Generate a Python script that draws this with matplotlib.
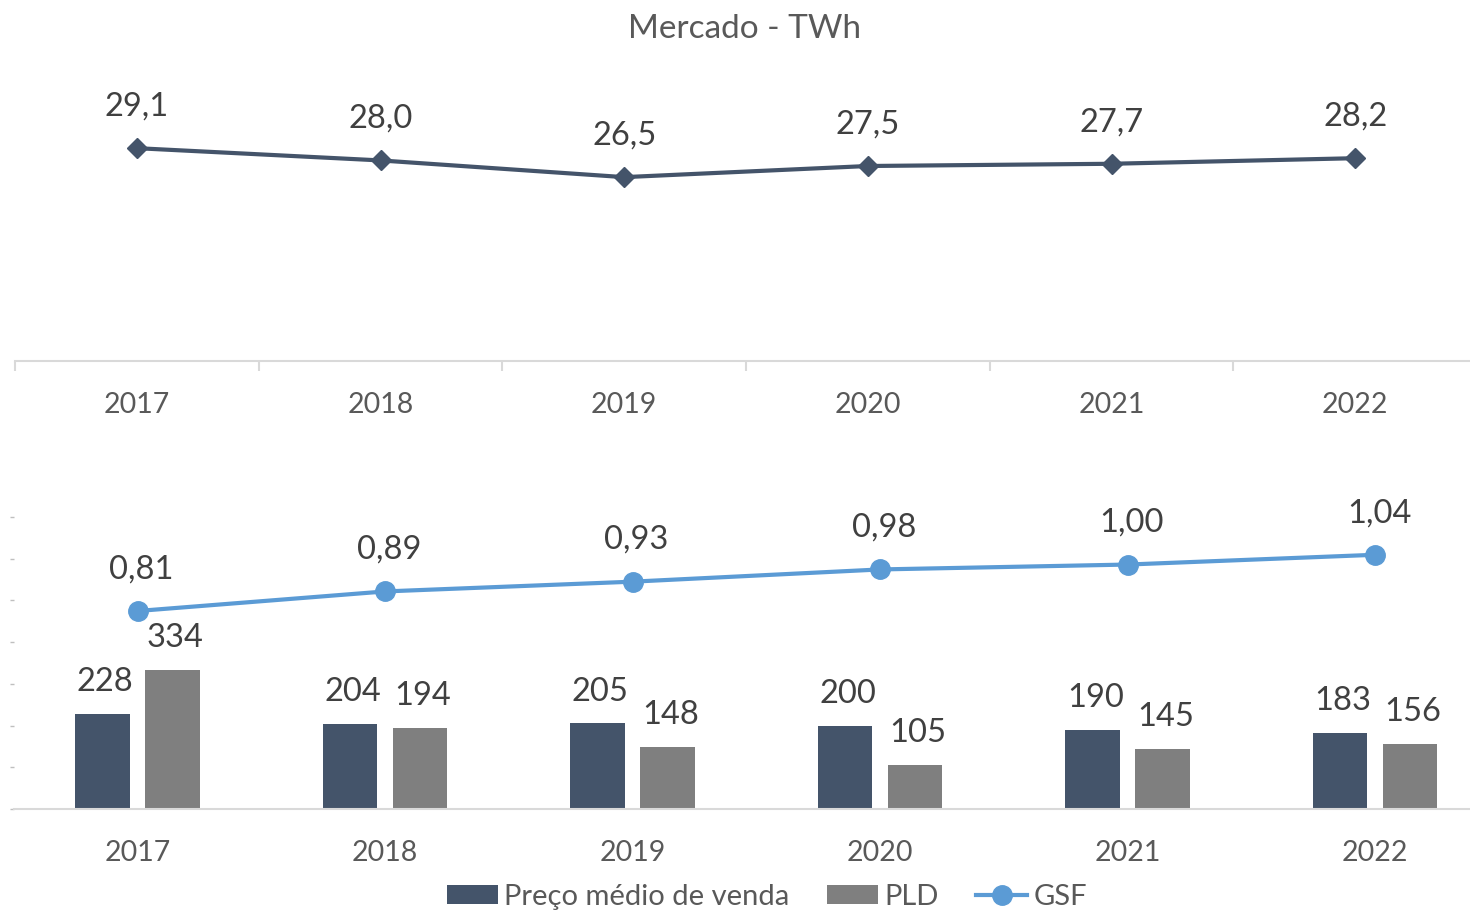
import matplotlib.pyplot as plt
import numpy as np

plt.rcParams['font.family'] = ['Lato', 'DejaVu Sans']

anos = ["2017", "2018", "2019", "2020", "2021", "2022"]
mercado_twh = [29.1, 28.0, 26.5, 27.5, 27.7, 28.2]
preco_medio = [228, 204, 205, 200, 190, 183]
pld = [334, 194, 148, 105, 145, 156]
gsf = [0.81, 0.89, 0.93, 0.98, 1.00, 1.04]

navy = "#44546A"
grey = "#7F7F7F"
blue = "#5B9BD5"
txt = "#595959"
lbl = "#404040"
axis_c = "#D9D9D9"


def br(v, nd):
    return f"{v:.{nd}f}".replace(".", ",")


W, H = 1470, 914
fig = plt.figure(figsize=(W / 100, H / 100), dpi=100)
x = np.arange(len(anos))

# --- top: Mercado - TWh
ax1 = fig.add_axes([15 / W, 1 - 361 / H, 1462 / W, 312 / H])
ax1.plot(x, mercado_twh, color=navy, lw=3, marker="D", ms=10)
for xi, v in zip(x, mercado_twh):
    ax1.annotate(br(v, 1), (xi, v), xytext=(0, 30), textcoords="offset points",
                 ha="center", va="center", fontsize=23.5, color=lbl)
ax1.set_xlim(-0.5, 5.5)
ax1.set_ylim(10, 38)
ax1.set_yticks([])
for s in ["top", "right", "left"]:
    ax1.spines[s].set_visible(False)
ax1.spines["bottom"].set_color(axis_c)
ax1.spines["bottom"].set_linewidth(1.5)
ax1.set_xticks(x)
ax1.set_xticklabels(anos, fontsize=20.5, color=txt)
ax1.tick_params(axis="x", which="major", length=0, pad=22)
ax1.set_xticks(np.arange(-0.5, 6, 1), minor=True)
ax1.tick_params(axis="x", which="minor", length=7, width=1.5, color=axis_c)
fig.text(745 / W, 1 - 29 / H, "Mercado - TWh", ha="center", va="center",
         fontsize=24, color=txt)

# --- bottom: prices bars + GSF line
ax2 = fig.add_axes([13.75 / W, 1 - 809 / H, 1485 / W, 297 / H])
bw = 0.222
off = 0.1414
b1 = ax2.bar(x - off, preco_medio, bw, color=navy, label="Preço médio de venda")
b2 = ax2.bar(x + off, pld, bw, color=grey, label="PLD")
for bars, vals in [(b1, preco_medio), (b2, pld)]:
    for r, v in zip(bars, vals):
        ax2.annotate(str(v), (r.get_x() + r.get_width() / 2, v), xytext=(2, 23),
                     textcoords="offset points", ha="center", va="center",
                     fontsize=23.5, color=lbl)
ax2.set_xlim(-0.5, 5.5)
ax2.set_ylim(0, 712)
ax2.set_yticks(np.arange(0, 701, 100))
ax2.set_yticklabels([])
ax2.tick_params(axis="y", length=3, width=1, color="#BFBFBF")
for s in ["top", "right", "left"]:
    ax2.spines[s].set_visible(False)
ax2.spines["bottom"].set_color(axis_c)
ax2.spines["bottom"].set_linewidth(1.5)
ax2.set_xticks(x)
ax2.set_xticklabels(anos, fontsize=20.5, color=txt)
ax2.tick_params(axis="x", length=0, pad=22)

ax3 = ax2.twinx()
ln, = ax3.plot(x, gsf, color=blue, lw=3, marker="o", ms=14, label="GSF")
for xi, v in zip(x, gsf):
    ax3.annotate(br(v, 2), (xi, v), xytext=(3, 30), textcoords="offset points",
                 ha="center", va="center", fontsize=23.5, color=lbl)
ax3.set_ylim(0, 1.215)
ax3.set_yticks([])
for s in ax3.spines.values():
    s.set_visible(False)

fig.legend(handles=[b1, b2, ln], loc="center", bbox_to_anchor=(767 / W, 1 - 897 / H),
           ncol=3, frameon=False, fontsize=21, labelcolor=txt,
           handlelength=1.75, handleheight=0.6, handletextpad=0.2,
           columnspacing=1.3)

fig.savefig("out.png", dpi=100)
